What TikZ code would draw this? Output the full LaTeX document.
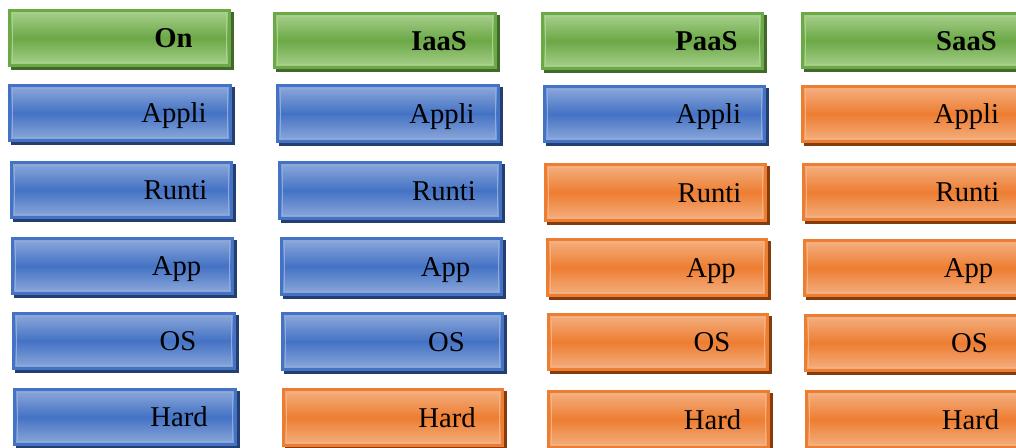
\documentclass[tikz,border=0pt]{standalone}
\usepackage{fontspec}
\setmainfont{Liberation Serif}
\definecolor{gmid}{HTML}{6BA846}
\definecolor{glight}{HTML}{A9D18E}
\definecolor{gdark}{HTML}{43682B}
\definecolor{bmid}{HTML}{4472C4}
\definecolor{blight}{HTML}{8EAADB}
\definecolor{bdark}{HTML}{253E70}
\definecolor{omid}{HTML}{ED7D31}
\definecolor{olight}{HTML}{F4B183}
\definecolor{odark}{HTML}{843C0C}
\tikzset{
  cell/.style={rectangle, inner sep=0pt, outer sep=0pt, line width=1.9pt},
  gcell/.style={cell, draw=gmid, top color=glight, bottom color=glight, middle color=gmid},
  bcell/.style={cell, draw=bmid, top color=blight, bottom color=blight, middle color=bmid},
  ocell/.style={cell, draw=omid, top color=olight, bottom color=olight, middle color=omid},
  celltext/.style={inner sep=0pt, text=black},
  hfont/.style={font=\fontsize{21.5}{26}\selectfont\bfseries},
  nfont/.style={font=\fontsize{21.5}{26}\selectfont},
}
\newcommand\mkcell[8]{%
  \fill[#2dark] (#3+3,#4+3) rectangle (#5+3,#6+3);
  \node[#2cell, minimum width={(#5-#3-2.5)*0.75pt}, minimum height={(#6-#4-2.5)*0.75pt}] (#1) at ({(#3+#5)/2},{(#4+#6)/2}) {};
  \draw[#2light, line width=0.8pt] ([shift={(3.2,3.2)}]#1.north west) rectangle ([shift={(-3.2,-3.2)}]#1.south east);
  \node[celltext, #7, anchor=base] (#1t) at ({(#3+#5)/2+54},{(#4+#6)/2+9.5}) {#8};
}
\begin{document}
\begin{tikzpicture}[x=0.75pt,y=-0.75pt]
\useasboundingbox (0,0) rectangle (1016,447);
\clip (0,0) rectangle (1016,447);
% column 1
\mkcell{h1}{g}{8}{9}{231}{67}{hfont}{On}
\mkcell{a1}{b}{8}{84}{232}{142}{nfont}{Appli}
\mkcell{r1}{b}{10}{161}{233}{219}{nfont}{Runti}
\mkcell{p1}{b}{11}{237}{234}{295}{nfont}{App}
\mkcell{o1}{b}{12}{312}{236}{370}{nfont}{OS}
\mkcell{d1}{b}{13}{388}{237}{446}{nfont}{Hard}
% column 2
\mkcell{h2}{g}{273}{12}{497}{69}{hfont}{IaaS}
\mkcell{a2}{b}{276}{84}{500}{143}{nfont}{Appli}
\mkcell{r2}{b}{278}{161}{502}{220}{nfont}{Runti}
\mkcell{p2}{b}{280}{237}{503}{296}{nfont}{App}
\mkcell{o2}{b}{281}{312}{504}{371}{nfont}{OS}
\mkcell{d2}{o}{282}{388}{504}{447}{nfont}{Hard}
% column 3
\mkcell{h3}{g}{541}{12}{764}{70}{hfont}{PaaS}
\mkcell{a3}{b}{543}{85}{766}{143}{nfont}{Appli}
\mkcell{r3}{o}{544}{163}{767}{222}{nfont}{Runti}
\mkcell{p3}{o}{546}{238}{768}{297}{nfont}{App}
\mkcell{o3}{o}{547}{313}{769}{371}{nfont}{OS}
\mkcell{d3}{o}{547}{390}{770}{449}{nfont}{Hard}
% column 4
\mkcell{h4}{g}{801}{12}{1024}{69}{hfont}{SaaS}
\mkcell{a4}{o}{801}{85}{1024}{143}{nfont}{Appli}
\mkcell{r4}{o}{802}{163}{1025}{221}{nfont}{Runti}
\mkcell{p4}{o}{803}{239}{1026}{297}{nfont}{App}
\mkcell{o4}{o}{804}{314}{1027}{372}{nfont}{OS}
\mkcell{d4}{o}{805}{390}{1028}{449}{nfont}{Hard}
\end{tikzpicture}
\end{document}
